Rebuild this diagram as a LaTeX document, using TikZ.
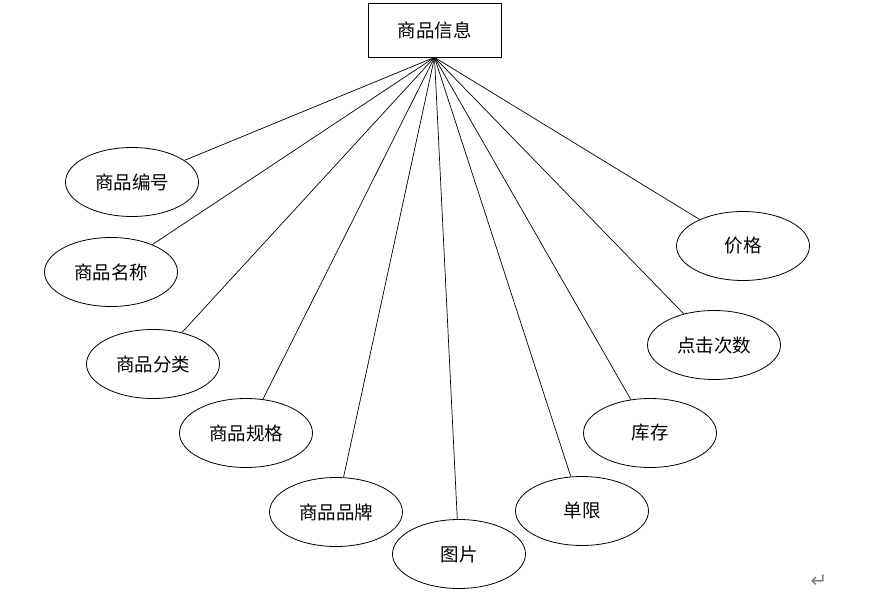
\documentclass[tikz,border=0pt]{standalone}
\usepackage{fontspec}
\newfontfamily\cjk{Noto Sans CJK SC}
\newfontfamily\dejavu{DejaVu Sans}
\usetikzlibrary{shapes.geometric}
\tikzset{
  attr/.style={ellipse,draw,line width=0.8pt,minimum width=133pt,minimum height=69pt,inner sep=0pt,font=\cjk\fontsize{18.5}{20}\selectfont},
  ent/.style={rectangle,draw,line width=0.8pt,minimum width=133pt,minimum height=54pt,inner sep=0pt,font=\cjk\fontsize{18.5}{20}\selectfont},
  link/.style={line width=0.7pt}
}
\begin{document}
\begin{tikzpicture}[x=1pt,y=-1pt]
\useasboundingbox (0,0) rectangle (878,599);
\node[ent] (top) at (434.5,30) {商品信息};
\node[attr] (a1) at (132,182) {商品编号};
\node[attr] (a2) at (111,272) {商品名称};
\node[attr] (a3) at (153,364) {商品分类};
\node[attr] (a4) at (246,433) {商品规格};
\node[attr] (a5) at (336,512) {商品品牌};
\node[attr] (a6) at (459,554) {图片};
\node[attr] (a7) at (582,511) {单限};
\node[attr] (a8) at (650,433) {库存};
\node[attr] (a9) at (714,345) {点击次数};
\node[attr] (a10) at (743,246) {价格};
\foreach \n in {a1,a2,a3,a4,a5,a6,a7,a8,a9,a10}
  \draw[link] (top.south) -- (\n);
\node[text=gray,font=\dejavu\fontsize{20}{22}\selectfont] (ret) at (819,581) {↵};
\end{tikzpicture}
\end{document}
